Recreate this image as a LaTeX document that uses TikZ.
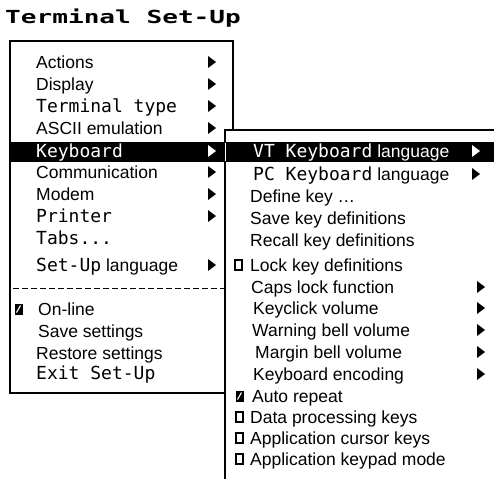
\documentclass[tikz,border=0pt]{standalone}
\usepackage{fontspec}
\setmainfont{Liberation Sans}
\newfontfamily\pixfam{DejaVu Sans Mono}
\newfontfamily\titlefam{DejaVu Sans Mono}
\newcommand{\sansf}{\fontsize{17.5}{20}\selectfont}
\newcommand{\pixf}{\pixfam\fontsize{18}{20}\selectfont}
\newcommand{\px}[1]{{\pixf #1}}
\tikzset{
  item/.style={anchor=base west, inner sep=0pt, font=\sansf},
  pitem/.style={anchor=base west, inner sep=0pt, font=\pixf},
  frame/.style={line width=1.3pt},
  tri/.pic={\fill (0,-6) -- (8,0) -- (0,6) -- cycle;},
  wtri/.pic={\fill[white] (0,-6) -- (8,0) -- (0,6) -- cycle;},
  cbox/.pic={\draw[line width=1.1pt] (0,-5) rectangle (7,5);},
  cboxon/.pic={\fill (-0.5,-5.5) rectangle (7.5,5.5);
               \draw[white,line width=1.1pt] (1.5,3.5) -- (5.5,-3.5);},
}
\begin{document}
\begin{tikzpicture}[x=1pt,y=-1pt]
\useasboundingbox[fill=white] (0,0) rectangle (494,479);
% title
\node[anchor=base west, inner sep=0pt] (title) at (5,23)
  {\scalebox{1.45}[1]{\titlefam\bfseries\fontsize{18}{20}\selectfont Terminal Set-Up}};
% main menu frame
\draw[frame, fill=white] (10,41) rectangle (233,393);
% keyboard highlight (main + submenu)
\fill (10,142) rectangle (494,162);
% main items
\node[item] (m1) at (36,68) {Actions};
\node[item] (m2) at (36,90) {Display};
\node[pitem] (m3) at (36,112) {Terminal type};
\node[item] (m4) at (36,134) {ASCII emulation};
\node[pitem, text=white] (m5) at (36,157) {Keyboard};
\node[item] (m6) at (36,178) {Communication};
\node[item] (m7) at (36,200) {Modem};
\node[pitem] (m8) at (36,222) {Printer};
\node[pitem] (m9) at (36,244) {Tabs...};
\node[item] (m10) at (36,271) {\px{Set-Up} language};
\draw[line width=1pt, dash pattern=on 6pt off 3pt] (13,288) -- (225,288);
\pic at (15,309) {cboxon};
\node[item] (m11) at (38,315) {On-line};
\node[item] (m12) at (38,337) {Save settings};
\node[item] (m13) at (36,359) {Restore settings};
\node[pitem] (m14) at (36,379) {Exit Set-Up};
\foreach \yy in {62,84,106,128,172,194,216,265} \pic at (208,\yy) {tri};
\pic at (208,151) {wtri};
% submenu
\fill[white] (226,131) rectangle (494,142);
\fill[white] (226,162) rectangle (494,479);
\draw[frame] (225,479) -- (225,130) -- (494,130);
\draw[white, line width=1pt] (225,143) -- (225,161);
\node[item, text=white] (s1) at (253,157) {\px{VT Keyboard} language};
\node[item] (s2) at (253,180) {\px{PC Keyboard} language};
\node[item] (s3) at (250,202) {Define key \dots};
\node[item] (s4) at (250,224) {Save key definitions};
\node[item] (s5) at (250,246) {Recall key definitions};
\pic at (235,265) {cbox};
\node[item] (s6) at (250,271) {Lock key definitions};
\node[item] (s7) at (251,293) {Caps lock function};
\node[item] (s8) at (253,314) {Keyclick volume};
\node[item] (s9) at (252,336) {Warning bell volume};
\node[item] (s10) at (255,358) {Margin bell volume};
\node[item] (s11) at (253,380) {Keyboard encoding};
\pic at (236,396) {cboxon};
\node[item] (s12) at (252,402) {Auto repeat};
\pic at (236,417) {cbox};
\node[item] (s13) at (250,423) {Data processing keys};
\pic at (236,438) {cbox};
\node[item] (s14) at (250,444) {Application cursor keys};
\pic at (236,459) {cbox};
\node[item] (s15) at (250,465) {Application keypad mode};
\pic at (472,151) {wtri};
\pic at (472,174) {tri};
\foreach \yy in {287,308,330,352,374} \pic at (477,\yy) {tri};
\end{tikzpicture}
\end{document}
